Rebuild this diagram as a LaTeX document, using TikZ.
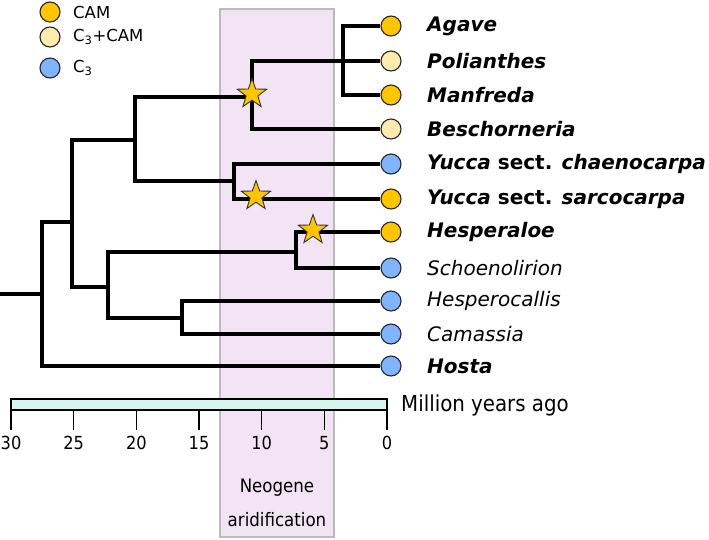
\documentclass[tikz,border=0pt]{standalone}
\usepackage{fontspec}
\setmainfont{DejaVu Sans}
\newfontfamily\condfont{DejaVu Sans Condensed}
\usetikzlibrary{shapes.geometric}
\definecolor{camc}{HTML}{FFC600}
\definecolor{mixc}{HTML}{FFEBB0}
\definecolor{cthree}{HTML}{80B4FF}
\definecolor{neo}{HTML}{F3E4F5}
\definecolor{neoline}{HTML}{BBBBBB}
\definecolor{barc}{HTML}{D6F5EE}
\pgfdeclarelayer{back}
\pgfdeclarelayer{mid}
\pgfsetlayers{back,mid,main}
\tikzset{
  branch/.style={line width=3.6pt, line join=miter, draw=black},
  tip/.style={circle, draw=black!85, line width=1.1pt, minimum size=20pt, inner sep=0pt},
  legdot/.style={circle, draw=black!85, line width=1.1pt, minimum size=20pt, inner sep=0pt},
  lab/.style={anchor=west, inner sep=0pt, font=\fontsize{20}{23}\selectfont},
  leglab/.style={anchor=west, inner sep=0pt, font=\fontsize{16.5}{19}\selectfont},
  starm/.style={star, star points=5, star point ratio=2.5, minimum size=31pt, inner sep=0pt, fill=camc, draw=black!80, line width=0.9pt},
  ticklab/.style={inner sep=0pt, font=\condfont\fontsize{18}{21}\selectfont},
  neolab/.style={inner sep=0pt, font=\condfont\fontsize{18.5}{21}\selectfont},
}
\begin{document}
\begin{tikzpicture}[x=1pt,y=-1pt]
\useasboundingbox (0,0) rectangle (709,539);
% Neogene band
\begin{pgfonlayer}{back}
\draw[fill=neo, draw=neoline, line width=1.2pt] (220,9) rectangle (334,537);
\end{pgfonlayer}
\node[neolab] (neo1) at (277,488) {Neogene};
\node[neolab] (neo2) at (277,520) {aridification};
% legend
\node[legdot, fill=camc] (l1) at (50,12) {};
\node[legdot, fill=mixc] (l2) at (50,37) {};
\node[legdot, fill=cthree] (l3) at (50,68) {};
\node[leglab] (t1) at (73,12) {CAM};
\node[leglab] (t2) at (73,37) {C\textsubscript{3}+CAM};
\node[leglab] (t3) at (73,68) {C\textsubscript{3}};
% tips
\node[tip, fill=camc]   (ag) at (391,26) {};
\node[tip, fill=mixc]   (po) at (391,61) {};
\node[tip, fill=camc]   (ma) at (391,95) {};
\node[tip, fill=mixc]   (be) at (391,129) {};
\node[tip, fill=cthree] (ch) at (391,164) {};
\node[tip, fill=camc]   (sa) at (391,199) {};
\node[tip, fill=camc]   (he) at (391,232) {};
\node[tip, fill=cthree] (sc) at (391,268) {};
\node[tip, fill=cthree] (hc) at (391,301) {};
\node[tip, fill=cthree] (ca) at (391,334) {};
\node[tip, fill=cthree] (ho) at (391,366) {};
% labels
\node[lab] (lag) at (427,26) {\bfseries\itshape Agave};
\node[lab] (lpo) at (427,61) {\bfseries\itshape Polianthes};
\node[lab] (lma) at (427,95) {\bfseries\itshape Manfreda};
\node[lab] (lbe) at (427,129) {\bfseries\itshape Beschorneria};
\node[lab] (lch) at (427,164) {\bfseries\itshape Yucca \upshape sect. \itshape chaenocarpa};
\node[lab] (lsa) at (427,199) {\bfseries\itshape Yucca \upshape sect. \itshape sarcocarpa};
\node[lab] (lhe) at (427,232) {\bfseries\itshape Hesperaloe};
\node[lab] (lsc) at (427,268) {\itshape Schoenolirion};
\node[lab] (lhc) at (427,301) {\itshape Hesperocallis};
\node[lab] (lca) at (427,334) {\itshape Camassia};
\node[lab] (lho) at (427,366) {\bfseries\itshape Hosta};
% internal nodes
\coordinate (rs) at (0,294);
\coordinate (root) at (42,294);
\coordinate (nA) at (72,222);
\coordinate (nB) at (135,140);
\coordinate (nC) at (108,287);
\coordinate (nD) at (252,97);
\coordinate (nE) at (234,181);
\coordinate (nF) at (343,61);
\coordinate (nG) at (296,252);
\coordinate (nH) at (182,318);
\begin{pgfonlayer}{mid}
\draw[branch] (rs) -- (root);
\draw[branch] (nA) -| (root) |- (ho);
\draw[branch] (nB) -| (nA) |- (nC);
\draw[branch] (nD) -| (nB) |- (nE);
\draw[branch] (nF) -| (nD) |- (be);
\draw[branch] (ag) -| (nF) |- (ma);
\draw[branch] (nF) -- (po);
\draw[branch] (ch) -| (nE) |- (sa);
\draw[branch] (nG) -| (nC) |- (nH);
\draw[branch] (he) -| (nG) |- (sc);
\draw[branch] (hc) -| (nH) |- (ca);
\end{pgfonlayer}
% stars
\node[starm] (s1) at (252,94) {};
\node[starm] (s2) at (256,196) {};
\node[starm] (s3) at (313,230) {};
% axis
\draw[fill=barc, line width=2pt] (11,399) rectangle (387,410);
\foreach \t in {0,5,...,30} {
  \draw[line width=1.2pt] ({387-12.533*\t},410) -- ({387-12.533*\t},430);
  \node[ticklab] (tk\t) at ({387-12.533*\t},443) {\t};
}
\node[lab, font=\condfont\fontsize{22}{25}\selectfont] (myr) at (401,405) {Million years ago};
\end{tikzpicture}
\end{document}
